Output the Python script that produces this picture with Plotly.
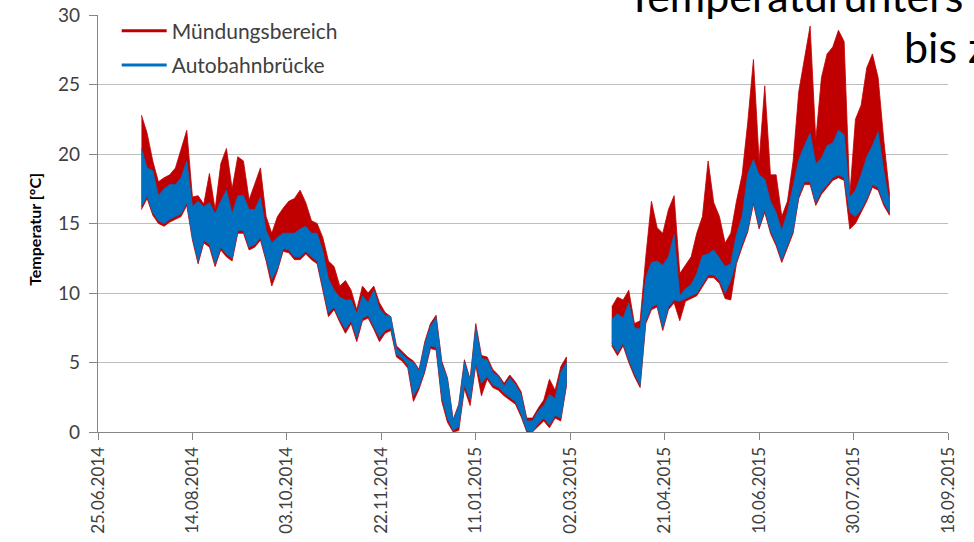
import plotly.graph_objects as go
import pandas as pd

# ---------------- data ----------------
tick_dates = ["2014-06-25", "2014-08-14", "2014-10-03", "2014-11-22", "2015-01-11",
              "2015-03-02", "2015-04-21", "2015-06-10", "2015-07-30", "2015-09-18"]
tick_labels = ["25.06.2014", "14.08.2014", "03.10.2014", "22.11.2014", "11.01.2015",
               "02.03.2015", "21.04.2015", "10.06.2015", "30.07.2015", "18.09.2015"]
y_ticks = [0, 5, 10, 15, 20, 25, 30]

series_names = ["Mündungsbereich", "Autobahnbrücke"]

# readings every 3 days: upper / lower envelope of each series
seg1_start = "2014-07-18"
seg2_start = "2015-03-24"
step = "3D"

red_hi_1 = [22.8, 21.5, 19.5, 18.0, 18.3, 18.5, 19.0, 20.3, 21.7, 16.9,
            17.0, 16.4, 18.6, 16.0, 19.3, 20.4, 17.5, 19.8, 19.5, 16.7,
            17.8, 19.0, 15.5, 14.3, 15.5, 16.1, 16.6, 16.8, 17.4, 16.5,
            15.2, 15.0, 14.0, 12.3, 11.9, 10.5, 10.9, 10.2, 8.8, 10.5,
            10.0, 10.5, 9.3, 8.6, 8.3, 6.2, 5.8, 5.4, 5.1, 4.5,
            6.5, 7.8, 8.4, 5.1, 3.9, 0.9, 2.0, 5.2, 3.8, 7.8,
            5.5, 5.4, 4.5, 4.1, 3.5, 4.1, 3.6, 2.9, 1.0, 1.0,
            1.7, 2.3, 3.8, 3.0, 4.7, 5.4]
blue_hi_1 = [20.4, 19.0, 18.8, 17.0, 17.5, 17.8, 17.8, 18.3, 19.5, 16.2,
             16.6, 16.2, 16.5, 15.7, 16.6, 17.4, 15.7, 17.0, 17.0, 16.0,
             16.0, 16.9, 14.5, 13.6, 14.0, 14.3, 14.3, 14.3, 14.6, 14.8,
             14.3, 14.3, 13.0, 11.0, 10.2, 9.7, 9.5, 9.5, 8.5, 9.8,
             9.3, 10.2, 8.9, 8.4, 8.3, 6.0, 5.6, 5.2, 5.0, 4.4,
             6.3, 7.6, 8.2, 4.9, 3.8, 0.8, 1.9, 5.0, 3.7, 7.5,
             5.3, 5.2, 4.3, 4.0, 3.3, 3.9, 3.4, 2.7, 0.8, 0.8,
             1.5, 1.9, 2.7, 2.4, 4.3, 5.0]
blue_lo_1 = [16.2, 17.0, 15.8, 15.2, 15.0, 15.3, 15.5, 15.7, 16.5, 14.0,
             12.3, 13.8, 13.5, 12.1, 13.3, 12.8, 12.5, 14.5, 14.5, 13.3,
             13.5, 14.0, 12.5, 11.0, 11.8, 13.2, 13.1, 12.6, 12.6, 13.0,
             12.6, 12.3, 10.5, 8.6, 9.0, 8.1, 7.4, 8.0, 6.8, 8.2,
             8.4, 7.6, 6.8, 7.3, 7.5, 5.6, 5.3, 4.8, 2.6, 3.3,
             4.5, 6.2, 6.1, 2.5, 1.0, 0.1, 0.4, 3.4, 2.3, 5.0,
             3.5, 4.0, 3.4, 3.2, 2.8, 2.5, 2.2, 1.3, 0.1, 0.0,
             0.6, 1.0, 0.5, 1.2, 1.0, 3.5]
red_lo_1 = [16.0, 16.8, 15.6, 15.0, 14.8, 15.1, 15.3, 15.5, 16.3, 13.8,
            12.1, 13.6, 13.3, 11.9, 13.1, 12.6, 12.3, 14.3, 14.3, 13.1,
            13.3, 13.8, 12.3, 10.5, 11.6, 13.0, 12.9, 12.4, 12.4, 12.8,
            12.4, 12.1, 10.3, 8.3, 8.8, 7.9, 7.1, 7.8, 6.5, 8.0,
            8.2, 7.4, 6.5, 7.1, 7.3, 5.4, 5.1, 4.6, 2.2, 3.1,
            4.3, 6.0, 5.9, 2.2, 0.7, 0.0, 0.1, 3.1, 1.9, 4.8,
            2.6, 3.8, 3.2, 3.0, 2.6, 2.3, 2.0, 1.1, 0.0, 0.0,
            0.4, 0.8, 0.3, 1.0, 0.8, 3.3]

red_hi_2 = [9.0, 9.7, 9.5, 10.2, 7.8, 8.0, 12.6, 16.6, 14.7, 14.3,
            16.0, 17.0, 11.4, 12.0, 12.6, 14.3, 15.5, 19.5, 16.5, 15.5,
            13.6, 14.3, 16.6, 18.5, 22.3, 26.8, 19.5, 24.9, 18.5, 18.5,
            15.5, 16.6, 19.5, 24.5, 26.8, 29.2, 21.0, 25.5, 27.2, 27.7,
            28.9, 28.1, 17.0, 22.5, 23.5, 26.2, 27.2, 25.5, 21.0, 17.2]
blue_hi_2 = [8.1, 8.5, 8.2, 9.3, 7.5, 7.4, 11.1, 12.2, 12.3, 12.0,
             12.6, 14.2, 9.8, 10.3, 10.6, 11.4, 12.7, 12.8, 13.1, 12.5,
             11.9, 12.1, 14.2, 15.5, 18.6, 19.6, 18.5, 18.2, 16.6, 15.8,
             14.5, 15.8, 17.6, 19.6, 20.6, 21.5, 19.3, 19.7, 20.6, 20.8,
             21.7, 21.4, 16.9, 17.4, 18.5, 19.8, 20.6, 21.6, 18.8, 16.5]
blue_lo_2 = [6.4, 5.7, 6.4, 5.2, 4.2, 3.4, 8.0, 9.0, 9.2, 7.5,
             9.0, 9.5, 9.4, 9.6, 9.8, 10.0, 10.6, 11.3, 11.3, 10.9,
             10.0, 10.9, 12.3, 13.5, 14.6, 16.6, 14.8, 16.0, 14.5, 13.6,
             12.4, 13.5, 14.5, 17.0, 18.0, 18.0, 16.5, 17.3, 17.8, 18.3,
             18.5, 18.3, 15.8, 15.5, 16.0, 16.8, 17.8, 17.6, 16.5, 15.8]
red_lo_2 = [6.2, 5.5, 6.2, 5.0, 4.0, 3.2, 7.8, 8.8, 9.0, 7.3,
            8.8, 9.3, 8.0, 9.4, 9.6, 9.8, 10.4, 11.1, 11.1, 10.7,
            9.6, 9.5, 12.1, 13.3, 14.4, 16.4, 14.6, 15.8, 14.3, 13.4,
            12.2, 13.3, 14.3, 16.8, 17.8, 17.8, 16.3, 17.1, 17.6, 18.1,
            18.3, 18.1, 14.6, 15.0, 15.8, 16.6, 17.6, 17.4, 16.3, 15.6]

RED = "#C00000"
BLUE = "#0070C0"
FONT = "Lato"


def band(start, hi, lo, color):
    dates = list(pd.date_range(start, periods=len(hi), freq=step))
    return go.Scatter(
        x=dates + dates[::-1],
        y=list(hi) + list(lo)[::-1],
        fill="toself", fillcolor=color, mode="lines",
        line=dict(color=color, width=0.8),
        showlegend=False, hoverinfo="skip")


fig = go.Figure()
fig.add_trace(band(seg1_start, red_hi_1, red_lo_1, RED))
fig.add_trace(band(seg2_start, red_hi_2, red_lo_2, RED))
fig.add_trace(band(seg1_start, blue_hi_1, blue_lo_1, BLUE))
fig.add_trace(band(seg2_start, blue_hi_2, blue_lo_2, BLUE))

for name, color in zip(series_names, [RED, BLUE]):
    fig.add_trace(go.Scatter(x=[None], y=[None], mode="lines", name=name,
                             legendgroup=name,
                             line=dict(color=color, width=3)))

fig.update_layout(
    width=974, height=542,
    margin=dict(l=98, r=26, t=14, b=110),
    paper_bgcolor="white", plot_bgcolor="white",
    font=dict(family=FONT, color="#404040"),
    showlegend=True,
    legend=dict(x=0.022, y=1.008, xanchor="left", yanchor="top",
                bgcolor="rgba(0,0,0,0)", font=dict(size=21, color="#404040"),
                itemwidth=45, tracegroupgap=4, traceorder="grouped"),
    xaxis=dict(type="date", range=[tick_dates[0], tick_dates[-1]],
               tickmode="array", tickvals=tick_dates, ticktext=tick_labels,
               tickangle=-90, ticks="outside", ticklen=7, tickcolor="#868686",
               showline=True, linecolor="#868686", linewidth=1.3,
               showgrid=False, zeroline=False, automargin=False,
               tickfont=dict(size=17, color="#404040")),
    yaxis=dict(range=[0, 30], tickmode="array", tickvals=y_ticks,
               ticks="outside", ticklen=8, tickcolor="#868686",
               showline=True, linecolor="#868686", linewidth=1.3,
               showgrid=True, gridcolor="#BDBDBD", gridwidth=1.3,
               zeroline=False, ticklabelstandoff=5, automargin=False,
               tickfont=dict(size=19, color="#404040")),
    annotations=[
        dict(text="Temperatur [°C]", xref="paper", yref="paper",
             x=-0.074, y=0.485, textangle=-90, showarrow=False,
             xanchor="center", yanchor="middle",
             font=dict(size=16, color="#000000", family=FONT, weight="bold")),
        dict(text="Temperaturunters", xref="paper", yref="paper",
             x=0.620, y=0.981, xanchor="left", yanchor="bottom", showarrow=False,
             font=dict(size=43, color="#000000", family=FONT)),
        dict(text="bis z", xref="paper", yref="paper",
             x=0.9455, y=0.859, xanchor="left", yanchor="bottom", showarrow=False,
             font=dict(size=43, color="#000000", family=FONT)),
    ],
)

fig.write_html("out.html", config={"displayModeBar": False},
               post_script="document.body.style.margin='0px';")
